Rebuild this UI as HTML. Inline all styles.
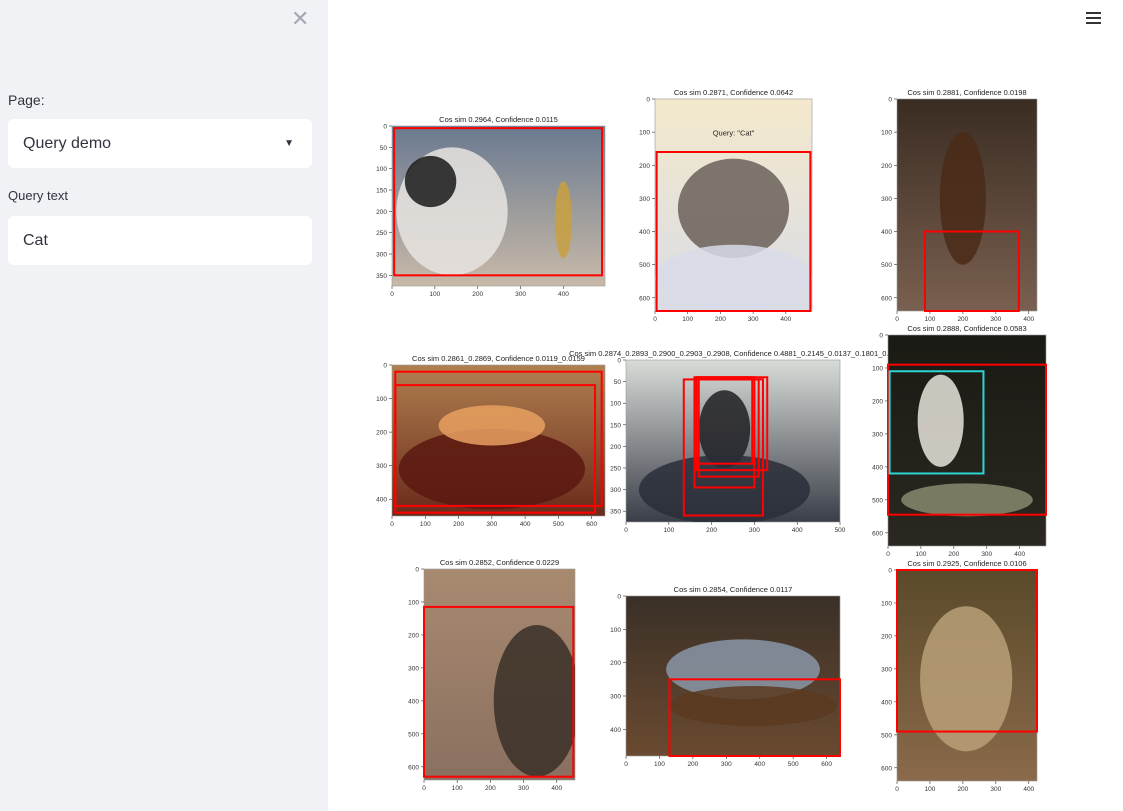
<!DOCTYPE html>
<html><head><meta charset="utf-8"><style>
body{margin:0;width:1123px;height:811px;overflow:hidden;font-family:"Liberation Sans",sans-serif;background:#fff;position:relative}
#side{position:absolute;left:0;top:0;width:328px;height:811px;background:#f0f2f6}
.lbl{position:absolute;left:8px;font-size:14px;color:#31333f}
.box{position:absolute;left:8px;width:304px;height:49px;background:#fff;border-radius:6px;font-size:16px;color:#31333f;box-sizing:border-box;padding-left:15px;line-height:49px}
svg{position:absolute;left:0;top:0}
</style></head><body>
<div id="side">
<div style="position:absolute;left:291px;top:6px;font-size:22px;color:#a3a8b4">✕</div>
<div class="lbl" style="top:92px">Page:</div>
<div class="box" style="top:119px">Query demo<span style="position:absolute;right:18px;top:0;font-size:10px">▼</span></div>
<div class="lbl" style="top:188px;font-size:13px">Query text</div>
<div class="box" style="top:216px">Cat</div>
</div>
<div style="position:absolute;left:1086px;top:12px;width:15px">
<div style="height:2px;background:#333;margin-bottom:3px"></div><div style="height:2px;background:#333;margin-bottom:3px"></div><div style="height:2px;background:#333"></div></div>
<svg id="chart" width="1123" height="811"></svg>
<script>
const titles=["Cos sim 0.2964, Confidence 0.0115","Cos sim 0.2871, Confidence 0.0642","Cos sim 0.2881, Confidence 0.0198","Cos sim 0.2861_0.2869, Confidence 0.0119_0.0159","Cos sim 0.2874_0.2893_0.2900_0.2903_0.2908, Confidence 0.4881_0.2145_0.0137_0.1801_0.02","Cos sim 0.2888, Confidence 0.0583","Cos sim 0.2852, Confidence 0.0229","Cos sim 0.2854, Confidence 0.0117","Cos sim 0.2925, Confidence 0.0106"];
const imgW=[497,480,425,640,500,480,455,640,425];
const imgH=[375,640,640,450,375,640,640,480,640];
const xTickStep=[100,100,100,100,100,100,100,100,100];
const yTickStep=[50,100,100,100,50,100,100,100,100];
const boxes=[[[5,5,490,350]],[[5,160,475,640]],[[85,400,370,640]],[[10,20,630,420],[10,60,610,440]],[[135,45,320,360],[160,40,300,295],[165,40,330,255],[170,45,310,270],[165,40,295,240]],[[0,90,480,545],[5,110,290,420]],[[0,115,450,630]],[[130,250,640,480]],[[0,0,425,490]]];
const boxColors=[["#f00"],["#f00"],["#f00"],["#f00","#f00"],["#f00","#f00","#f00","#f00","#f00"],["#f00","#2cd4d4"],["#f00"],["#f00"],["#f00"]];
const bg=[["#6a7a90","#c8b9a8"],["#f4e9cc","#d9dce6"],["#3a2c22","#7a6050"],["#b08050","#6a2a1a"],["#d8dcd8","#3a3e48"],["#1a1a14","#2a2820"],["#a88a70","#8a7060"],["#3a3028","#6a4a30"],["#5a4a2a","#8a6a4a"]];
// decorative blobs [cx,cy,rx,ry,color] in image coords
const blobs=[[[140,200,130,150,"#e8e4e0"],[90,130,60,60,"#1a1a1a"],[400,220,20,90,"#c8a040"]],[[240,330,170,150,"#6a6058"],[240,540,240,100,"#d8dce8"]],[[200,300,70,200,"#4a2a18"]],[[300,310,280,120,"#5a1810"],[300,180,160,60,"#e8a060"]],[[230,160,60,90,"#202024"],[230,300,200,80,"#2a2e38"]],[[160,260,70,140,"#e8e4dc"],[240,500,200,50,"#8a8a70"]],[[340,400,130,230,"#3a3028"]],[[350,220,230,90,"#8a96a8"],[380,330,250,60,"#5a3a20"]],[[210,330,140,220,"#b8a078"]]];
const rect=[[392,126,605,286],[655,99,812,311],[897,99,1037,311],[392,365,605,516],[626,360,840,522],[888,335,1046,546],[424,569,575,780],[626,596,840,756],[897,570,1037,781]];
const NS="http://www.w3.org/2000/svg",svg=document.getElementById('chart');
function mk(t,a,p){const e=document.createElementNS(NS,t);for(const k in a)e.setAttribute(k,a[k]);(p||svg).appendChild(e);return e;}
let defs=mk('defs',{});
titles.forEach((t,i)=>{
 const [x0,y0,x1,y1]=rect[i];
 const sx=v=>x0+v/imgW[i]*(x1-x0), sy=v=>y0+v/imgH[i]*(y1-y0);
 const g=mk('linearGradient',{id:'g'+i,x1:0,y1:0,x2:0,y2:1},defs);
 mk('stop',{offset:0,'stop-color':bg[i][0]},g);mk('stop',{offset:1,'stop-color':bg[i][1]},g);
 const cp=mk('clipPath',{id:'c'+i},defs);mk('rect',{x:x0,y:y0,width:x1-x0,height:y1-y0},cp);
 const grp=mk('g',{});
 
 
 const im=mk('rect',{x:x0,y:y0,width:x1-x0,height:y1-y0,fill:'url(#g'+i+')',stroke:'#999','stroke-width':0.6},grp);
 
 
 const bgp=mk('g',{'clip-path':'url(#c'+i+')'},grp);
 blobs[i].forEach(b=>{mk('ellipse',{cx:sx(b[0]),cy:sy(b[1]),rx:b[2]/imgW[i]*(x1-x0),ry:b[3]/imgH[i]*(y1-y0),fill:b[4],opacity:0.85},bgp);});
 const tt=mk('text',{x:(x0+x1)/2,y:y0-4,'font-size':7.5,'text-anchor':'middle',fill:'#222'},grp);tt.textContent=t;
 
 
 for(let v=0;v<=imgW[i];v+=xTickStep[i]){const X=sx(v);mk('line',{x1:X,x2:X,y1:y1,y2:y1+3,stroke:'#333','stroke-width':0.6},grp);
  const l=mk('text',{x:X,y:y1+10,'font-size':6.5,'text-anchor':'middle',fill:'#333'},grp);l.textContent=v;}
 for(let v=0;v<=imgH[i];v+=yTickStep[i]){const Y=sy(v);mk('line',{x1:x0-3,x2:x0,y1:Y,y2:Y,stroke:'#333','stroke-width':0.6},grp);
  const l=mk('text',{x:x0-5,y:Y+2.5,'font-size':6.5,'text-anchor':'end',fill:'#333'},grp);l.textContent=v;}
 boxes[i].forEach((b,j)=>{const r=mk('rect',{x:sx(b[0]),y:sy(b[1]),width:sx(b[2])-sx(b[0]),height:sy(b[3])-sy(b[1]),fill:'none',stroke:boxColors[i][j],'stroke-width':2},grp);
  
  });
 if(i==1){const q=mk('text',{x:sx(240),y:sy(110),'font-size':7.5,'text-anchor':'middle',fill:'#222'},grp);q.textContent='Query: "Cat"';}
});
</script>
</body></html>
